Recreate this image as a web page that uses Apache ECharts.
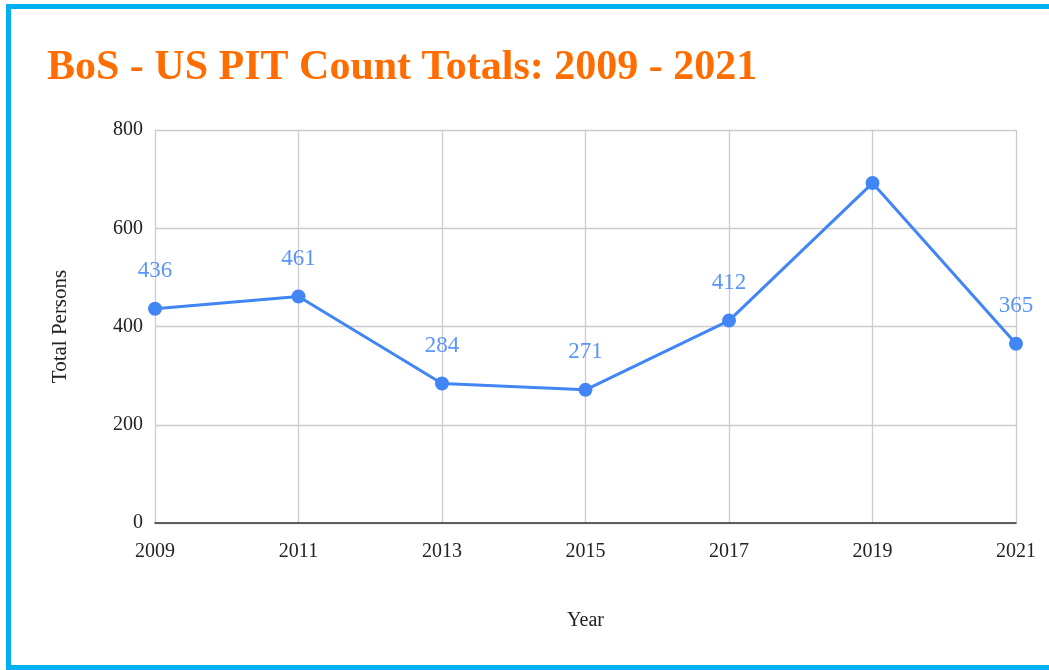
<!DOCTYPE html>
<html>
<head>
<meta charset="utf-8">
<script src="https://cdn.jsdelivr.net/npm/echarts@6/dist/echarts.min.js"></script>
<style>
html,body{margin:0;padding:0;background:#fff;}
#chart{width:1049px;height:670px;}
</style>
</head>
<body>
<div id="chart"></div>
<script>
const years = ['2009','2011','2013','2015','2017','2019','2021'];
const totals = [436, 461, 284, 271, 412, 692, 365];
const labelShown = [true, true, true, true, true, false, true];
const yTicks = [0, 200, 400, 600, 800];

const serif = '"Liberation Serif", "DejaVu Serif", serif';
const chart = echarts.init(document.getElementById('chart'));
chart.setOption({
  animation: false,
  backgroundColor: '#fff',
  title: {
    text: 'BoS - US PIT Count Totals: 2009 - 2021',
    left: 42, top: 42,
    textStyle: {color: '#FF6D01', fontFamily: serif, fontWeight: 'bold', fontSize: 42}
  },
  graphic: [{
    type: 'rect',
    shape: {x: 8.5, y: 6.5, width: 1100, height: 661},
    style: {fill: 'none', stroke: '#00B0F0', lineWidth: 5},
    z: 100
  }],
  grid: {left: 155, right: 33, top: 130, bottom: 147},
  xAxis: {
    type: 'category',
    data: years,
    boundaryGap: false,
    name: 'Year',
    nameLocation: 'middle',
    nameGap: 88,
    nameTextStyle: {color: '#222', fontFamily: serif, fontSize: 20},
    axisLine: {lineStyle: {color: '#333', width: 1.5}},
    axisTick: {show: false},
    axisLabel: {color: '#222', fontFamily: serif, fontSize: 20, margin: 19},
    splitLine: {show: true, lineStyle: {color: '#cccccc', width: 1.3}}
  },
  yAxis: {
    type: 'value',
    min: yTicks[0], max: yTicks[yTicks.length - 1], interval: 200,
    name: 'Total Persons',
    nameLocation: 'middle',
    nameGap: 84,
    nameTextStyle: {color: '#222', fontFamily: serif, fontSize: 21},
    axisLine: {show: false},
    axisTick: {show: false},
    axisLabel: {color: '#222', fontFamily: serif, fontSize: 20, margin: 12},
    splitLine: {lineStyle: {color: '#cccccc', width: 1.3}}
  },
  series: [{
    type: 'line',
    data: totals.map((v, i) => ({value: v, label: {show: labelShown[i]}})),
    color: '#4285F4',
    lineStyle: {width: 3, color: '#4285F4'},
    symbol: 'circle',
    symbolSize: 14,
    itemStyle: {color: '#4285F4'},
    label: {
      show: true, position: 'top', distance: 19,
      color: '#5B95F9', fontFamily: serif, fontSize: 23
    },
    clip: false
  }]
});
</script>
</body>
</html>
